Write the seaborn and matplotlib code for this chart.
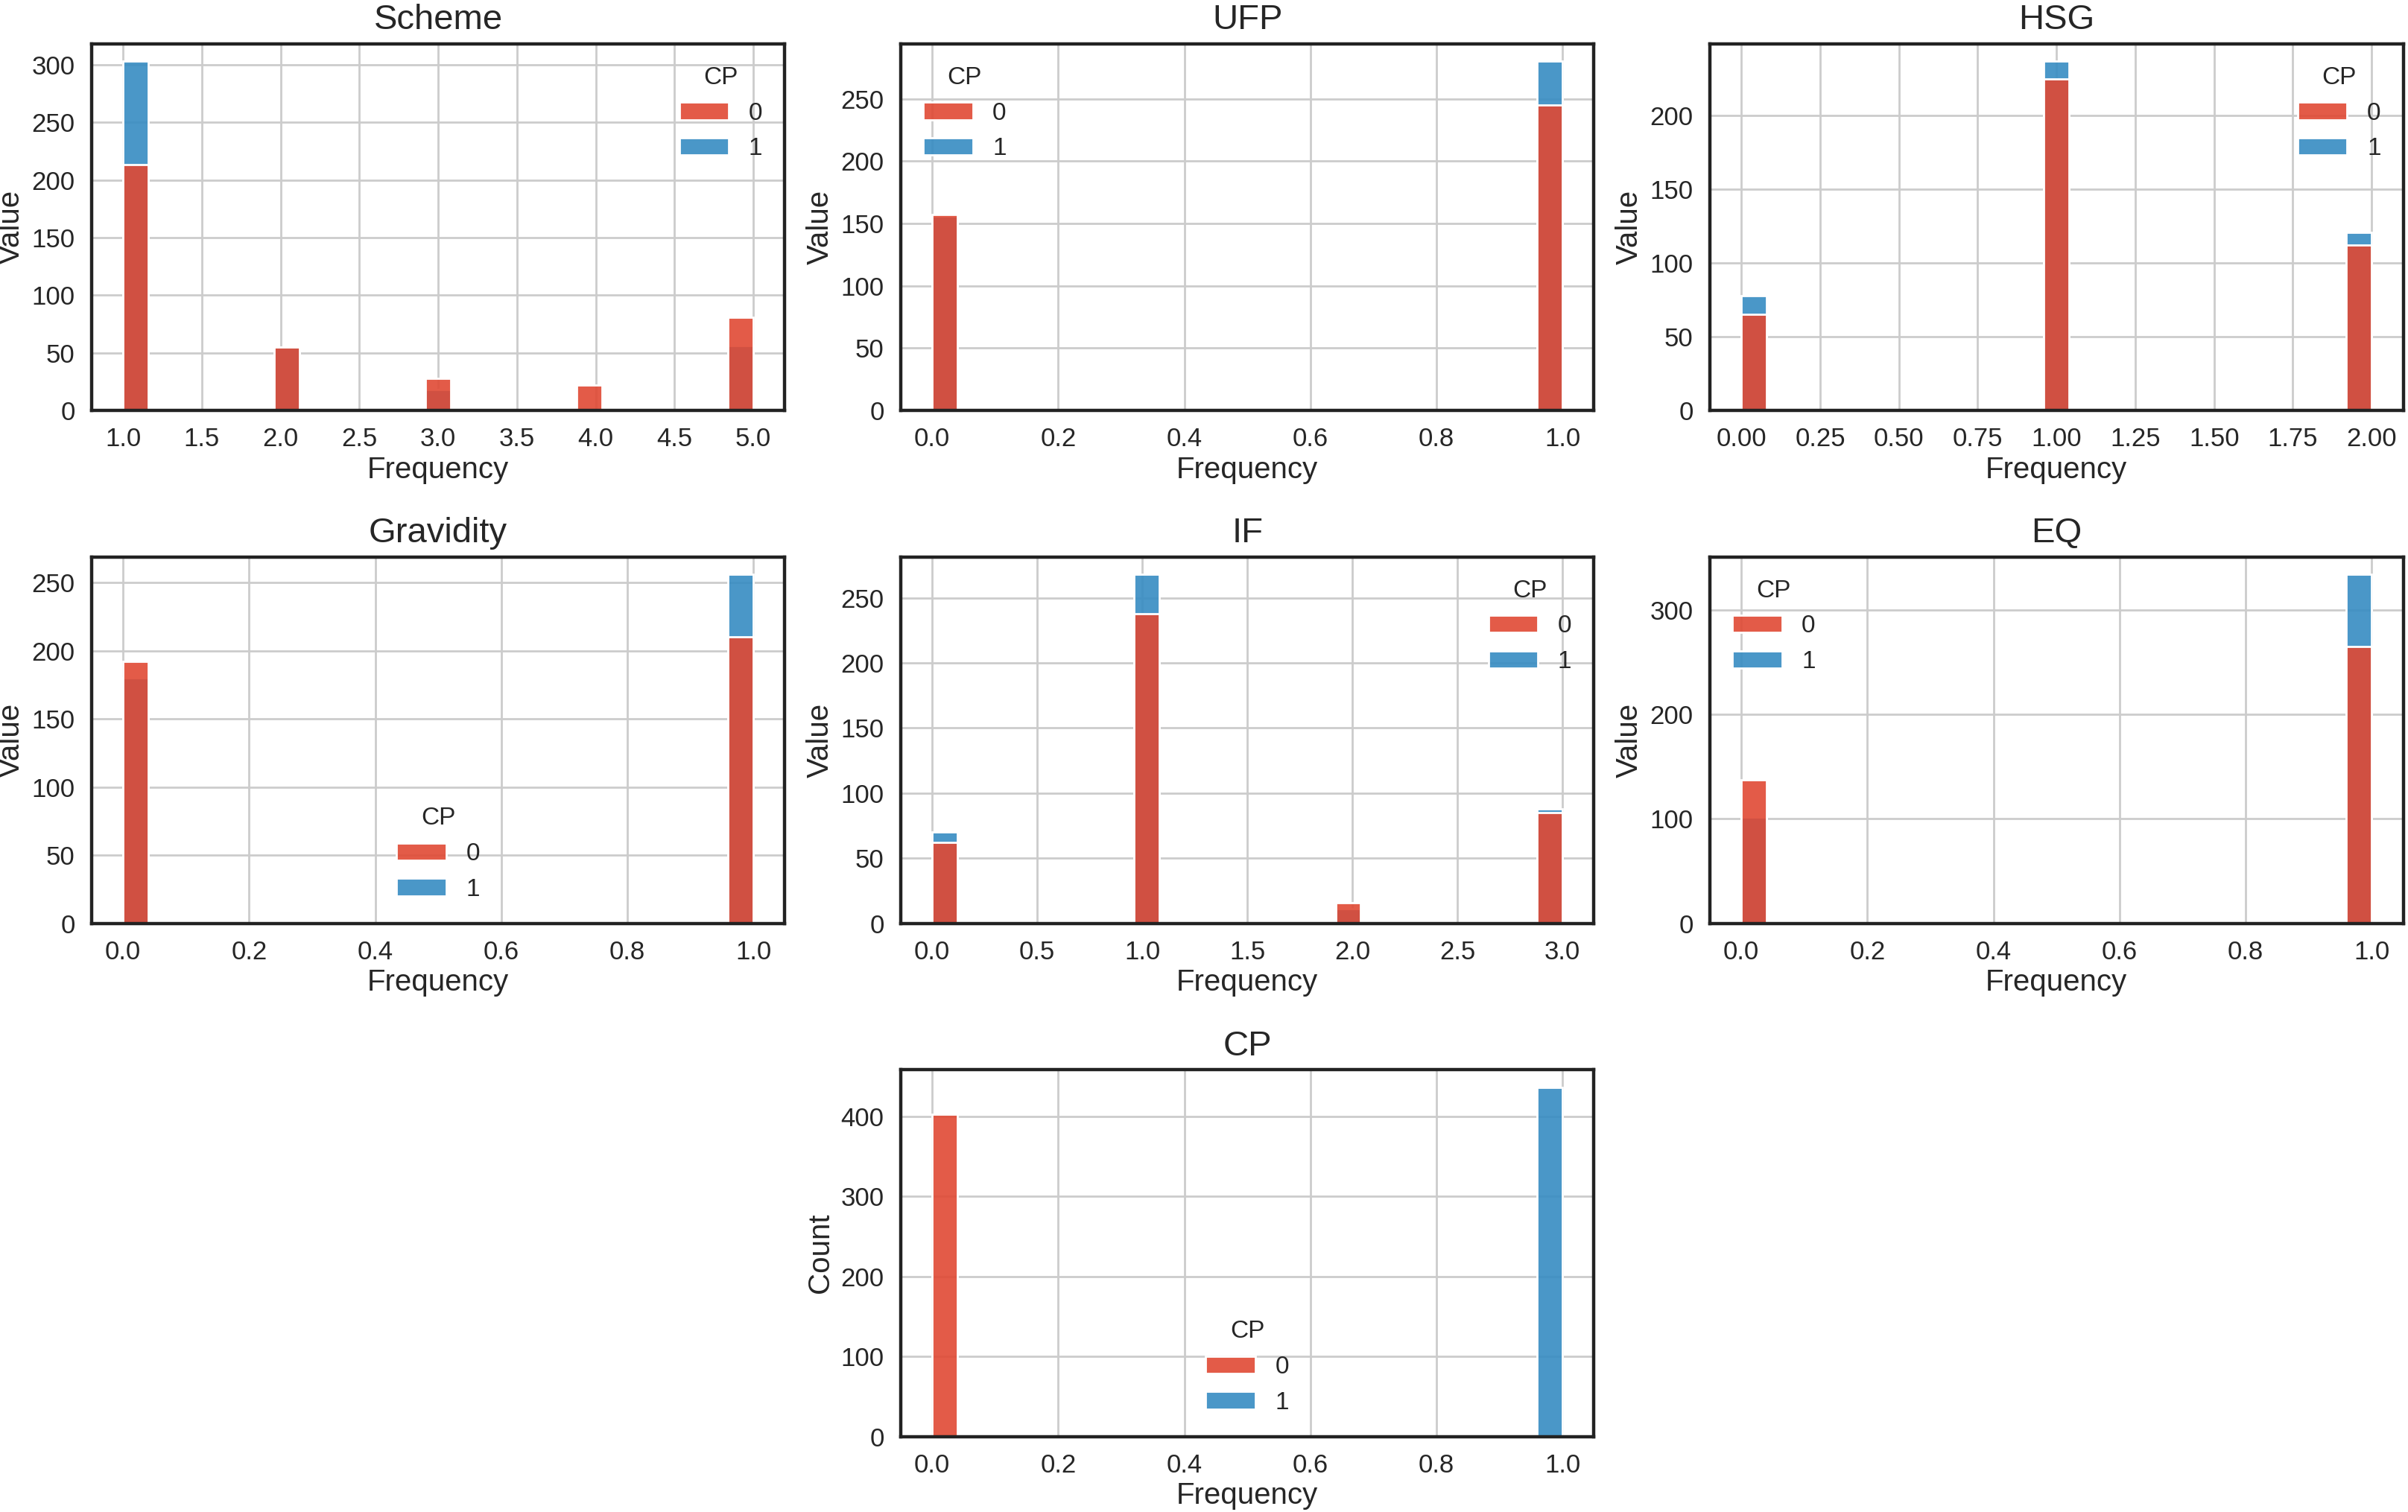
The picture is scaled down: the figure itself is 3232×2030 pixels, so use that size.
import matplotlib
matplotlib.use('Agg')
import matplotlib.pyplot as plt
from matplotlib.ticker import MaxNLocator
import numpy as np
import pandas as pd
import seaborn as sns

# category values of each variable and the counts per CP class
scheme_vals = [1, 2, 3, 4, 5]
scheme_cp0 = [213, 55, 28, 22, 81]
scheme_cp1 = [303, 55, 18, 0, 56]

ufp_vals = [0, 1]
ufp_cp0 = [157, 245]
ufp_cp1 = [156, 280]

hsg_vals = [0, 1, 2]
hsg_cp0 = [65, 225, 112]
hsg_cp1 = [78, 237, 121]

gravidity_vals = [0, 1]
gravidity_cp0 = [192, 210]
gravidity_cp1 = [180, 256]

if_vals = [0, 1, 2, 3]
if_cp0 = [62, 238, 16, 85]
if_cp1 = [70, 268, 11, 88]

eq_vals = [0, 1]
eq_cp0 = [137, 265]
eq_cp1 = [102, 334]

cp_vals = [0, 1]
cp_cp0 = [402, 0]
cp_cp1 = [0, 436]

panels = [
    ('Scheme', scheme_vals, scheme_cp0, scheme_cp1, 'upper right'),
    ('UFP', ufp_vals, ufp_cp0, ufp_cp1, 'upper left'),
    ('HSG', hsg_vals, hsg_cp0, hsg_cp1, 'upper right'),
    ('Gravidity', gravidity_vals, gravidity_cp0, gravidity_cp1, 'lower center'),
    ('IF', if_vals, if_cp0, if_cp1, 'upper right'),
    ('EQ', eq_vals, eq_cp0, eq_cp1, 'upper left'),
    ('CP', cp_vals, cp_cp0, cp_cp1, 'lower center'),
]

palette = {0: '#e04934', 1: '#368cc2'}

sns.set_theme(style='whitegrid')
plt.rcParams['font.family'] = ['Liberation Sans', 'DejaVu Sans']
plt.rcParams['axes.edgecolor'] = '#222222'
plt.rcParams['axes.linewidth'] = 1.6
plt.rcParams['grid.color'] = '#cccccc'

fig, axes = plt.subplots(nrows=3, ncols=3, figsize=(16.16, 10.15), dpi=200)
fig.subplots_adjust(left=0.038, right=0.998, top=0.971, bottom=0.05, wspace=0.167, hspace=0.4)
axes[2, 0].remove()
axes[2, 2].remove()
slots = [axes[0, 0], axes[0, 1], axes[0, 2], axes[1, 0], axes[1, 1], axes[1, 2], axes[2, 1]]

for ax, (name, vals, c0, c1, loc) in zip(slots, panels):
    x = np.concatenate([np.repeat(vals, c0), np.repeat(vals, c1)])
    cp = np.concatenate([np.zeros(sum(c0), dtype=int), np.ones(sum(c1), dtype=int)])
    df = pd.DataFrame({'value': x, 'CP': cp})
    sns.histplot(data=df, x='value', hue='CP', hue_order=[0, 1], bins=25,
                 palette=palette, alpha=0.9, ax=ax)
    ax.xaxis.set_major_locator(MaxNLocator(nbins=9, steps=[1, 2, 2.5, 5, 10]))
    ax.set_title(name, fontsize=17, pad=7)
    ax.set_xlabel('Frequency', fontsize=14.5, labelpad=2)
    ax.set_ylabel('Count' if name == 'CP' else 'Value', fontsize=14.5, labelpad=3)
    ax.tick_params(axis='both', labelsize=12.5, pad=2)
    for s in ax.spines.values():
        s.set_visible(True)
        s.set_color('#222222')
        s.set_linewidth(1.6)
    sns.move_legend(ax, loc, frameon=False, title='CP', fontsize=12, title_fontsize=12)

fig.savefig('out.png', dpi=200)
